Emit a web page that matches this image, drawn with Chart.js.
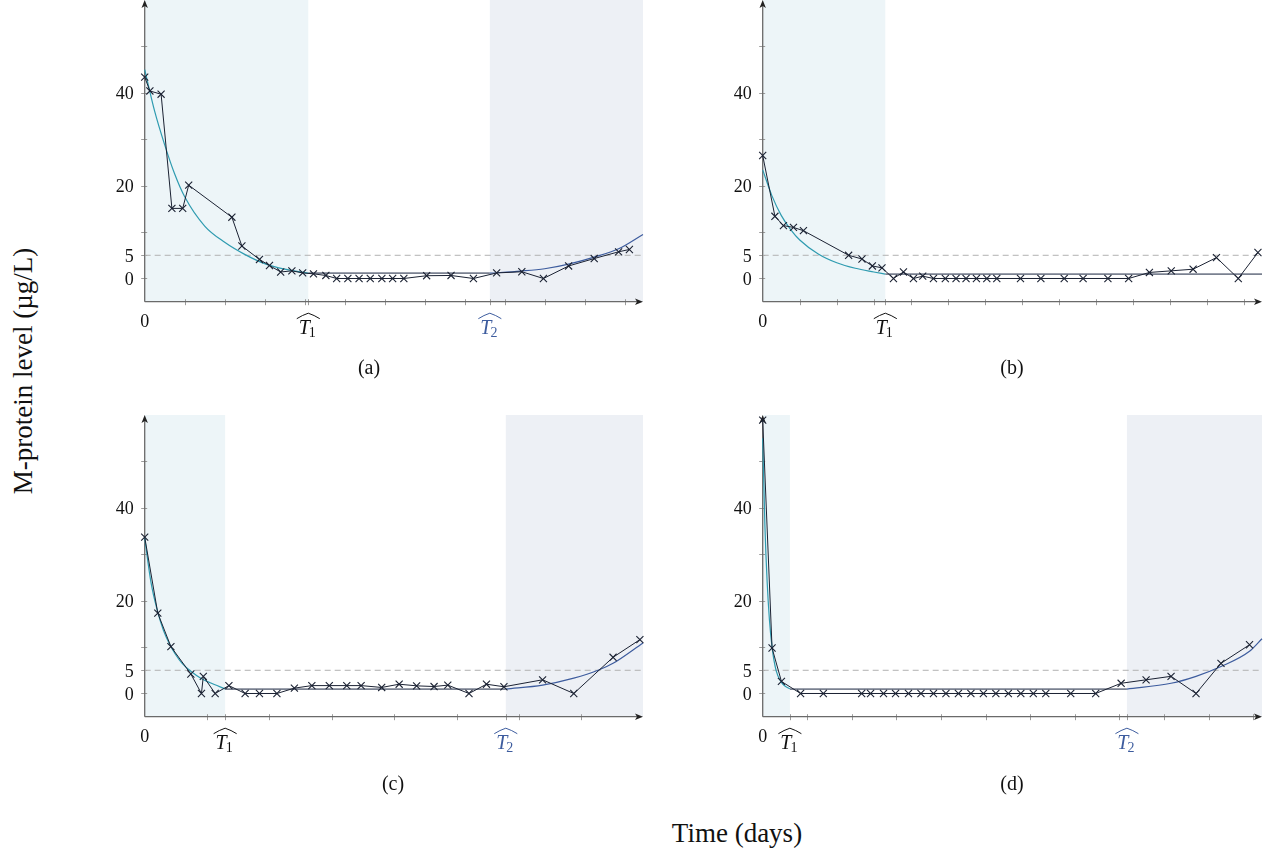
<!DOCTYPE html>
<html>
<head>
<meta charset="utf-8">
<script src="https://cdn.jsdelivr.net/npm/chart.js@4/dist/chart.umd.min.js"></script>
<style>
  body { margin: 0; background: #fff; width: 1263px; height: 862px; position: relative; overflow: hidden;
         font-family: "Liberation Serif", "Times New Roman", serif; color: #111; }
  canvas { position: absolute; }
  .lbl { position: absolute; white-space: nowrap; transform: translate(-50%, -50%); }
</style>
</head>
<body>
<canvas id="cA" width="580" height="395" style="left:90px;top:0px"></canvas>
<canvas id="cB" width="563" height="395" style="left:700px;top:0px"></canvas>
<canvas id="cC" width="580" height="400" style="left:90px;top:400px"></canvas>
<canvas id="cD" width="563" height="400" style="left:700px;top:400px"></canvas>

<div class="lbl" style="left:369px;top:367px;font-size:20px">(a)</div>
<div class="lbl" style="left:1012px;top:367px;font-size:20px">(b)</div>
<div class="lbl" style="left:393px;top:783px;font-size:20px">(c)</div>
<div class="lbl" style="left:1012px;top:783px;font-size:20px">(d)</div>
<div class="lbl" style="left:737px;top:833px;font-size:27px">Time (days)</div>
<div class="lbl" style="left:23px;top:371px;font-size:27px;transform:translate(-50%,-50%) rotate(-90deg)">M-protein level (µg/L)</div>

<script>
//-> values (days, µg/L)
const yLabelTicks = [0, 5, 20, 40];
const yMinorTicks = [10, 30, 50];
const xTickStep = 100;
const threshold = 5;

// (a)
const aDays = [0, 13, 41, 68, 95, 110, 218, 243, 287, 312, 340, 368, 395, 422, 453, 480, 508, 536, 564, 593, 620, 648, 705, 766, 822, 880, 943, 997, 1060, 1124, 1185, 1212];
const aVals = [43.4, 40.4, 39.7, 15.1, 15.1, 20.1, 13.2, 7.0, 4.1, 2.8, 1.4, 1.65, 1.2, 1.0, 0.65, 0, 0, 0, 0, 0, 0, 0, 0.6, 0.65, 0, 1.2, 1.45, 0, 2.7, 4.3, 5.75, 6.25];
const aFitDays = [0, 25, 50, 75, 100, 150, 200, 250, 300, 350, 409];
const aFitVals = [45, 36, 28.8, 22.5, 17.6, 11.3, 7.8, 5.2, 3.2, 2.0, 1.15];
const aGrowDays = [863, 940, 1000, 1060, 1124, 1185, 1246];
const aGrowVals = [1.15, 1.6, 2.1, 3.1, 4.6, 6.4, 9.5];
const aT1 = 409, aT2 = 863, aXmax = 1246, aLevel = 1.15;

// (b)
const bDays = [0, 33, 56, 83, 110, 232, 268, 296, 322, 353, 380, 407, 432, 461, 493, 522, 549, 577, 605, 632, 696, 751, 814, 865, 932, 988, 1044, 1103, 1162, 1225, 1284, 1337];
const bVals = [26.5, 13.4, 11.4, 11.0, 10.3, 5.0, 4.2, 2.7, 2.3, 0, 1.4, 0, 0.5, 0, 0, 0, 0, 0, 0, 0, 0, 0, 0, 0, 0, 0, 1.3, 1.65, 2.0, 4.5, 0, 5.6];
const bFitDays = [0, 25, 50, 75, 100, 150, 200, 250, 300, 331];
const bFitVals = [23.4, 17.8, 13.6, 10.6, 8.3, 5.3, 3.4, 2.2, 1.4, 0.95];
const bT1 = 331, bXmax = 1348, bLevel = 0.95;

// (c)
const cDays = [0, 21, 42, 74, 91, 94, 113, 135, 161, 184, 212, 240, 268, 296, 324, 347, 380, 408, 436, 464, 486, 520, 548, 576, 638, 688, 751, 794];
const cVals = [33.7, 17.3, 10.1, 4.2, 0, 3.7, 0, 1.7, 0, 0, 0, 1.15, 1.7, 1.7, 1.7, 1.7, 1.3, 2.0, 1.65, 1.5, 1.8, 0, 2.0, 1.45, 2.95, 0, 7.8, 11.6];
const cFitDays = [0, 10, 20, 30, 40, 50, 60, 75, 90, 105, 129];
const cFitVals = [33.5, 24.0, 18.0, 13.6, 10.6, 8.3, 6.5, 4.7, 3.3, 2.3, 1.0];
const cGrowDays = [579, 638, 688, 727, 751, 799];
const cGrowVals = [0.95, 1.8, 3.3, 5.0, 6.5, 10.9];
const cT1 = 129, cT2 = 579, cXmax = 799, cLevel = 0.95;

// (d)
const dDays = [0, 21, 42, 85, 136, 222, 242, 271, 298, 327, 355, 383, 411, 439, 467, 495, 523, 551, 579, 607, 635, 691, 747, 804, 860, 916, 972, 1028, 1092];
const dVals = [58.9, 9.8, 2.6, 0, 0, 0, 0, 0, 0, 0, 0, 0, 0, 0, 0, 0, 0, 0, 0, 0, 0, 0, 0, 2.2, 2.95, 3.7, 0, 6.5, 10.5];
const dFitDays = [0, 5, 10, 15, 21, 30, 42, 50, 61];
const dFitVals = [55, 36, 24, 16, 10, 5, 2.4, 1.6, 1.0];
const dGrowDays = [817, 916, 972, 1028, 1092, 1120];
const dGrowVals = [0.95, 2.2, 3.7, 5.8, 9.1, 11.8];
const dT1 = 61, dT2 = 817, dXmax = 1120, dLevel = 0.95;

const SERIF = '"Liberation Serif", "Times New Roman", serif';
const COL_DATA = '#1b2233';
const COL_FIT1 = '#2e9bb0';
const COL_FIT2 = '#3d5c9e';
const COL_LEVEL = '#7a8190';
const COL_SHADE1 = '#edf5f8';
const COL_SHADE2 = '#edf0f5';
const COL_AXIS = '#6a6a6a';

function pts(xs, ys) {
   return xs.map((x, i) => ({ x: x, y: ys[i] }));
}

function drawHatLabel(ctx, cx, axisY, sub, color) {
   ctx.save();
   ctx.fillStyle = color;
   ctx.strokeStyle = color;
   ctx.font = 'italic 20px ' + SERIF;
   const wT = ctx.measureText('T').width;
   ctx.font = '14px ' + SERIF;
   const wS = ctx.measureText(sub).width;
   const x0 = cx - (wT + wS - 1) / 2 - 1;
   ctx.textAlign = 'left';
   ctx.textBaseline = 'alphabetic';
   ctx.font = 'italic 20px ' + SERIF;
   ctx.fillText('T', x0, axisY + 32);
   ctx.font = '14px ' + SERIF;
   ctx.fillText(sub, x0 + wT - 1, axisY + 35);
   //-> widehat
   ctx.lineWidth = 1;
   ctx.beginPath();
   ctx.moveTo(cx - 11.5, axisY + 17);
   ctx.quadraticCurveTo(cx - 6, axisY + 13.5, cx, axisY + 11.5);
   ctx.quadraticCurveTo(cx + 6, axisY + 13.5, cx + 11.5, axisY + 17);
   ctx.stroke();
   ctx.restore();
}

const decor = {
   id: 'decor',
   beforeDatasetsDraw(chart, args, opt) {
      const ctx = chart.ctx;
      const xs = chart.scales.x, ys = chart.scales.y;
      const top = chart.chartArea.top;
      const x0 = xs.getPixelForValue(0);
      const xEnd = xs.getPixelForValue(opt.xmax);
      const yB = ys.getPixelForValue(-5);
      ctx.save();
      //-> shaded phases
      ctx.fillStyle = COL_SHADE1;
      ctx.fillRect(x0, top, xs.getPixelForValue(opt.t1) - x0, yB - top);
      if (opt.t2 != null) {
         const p2 = xs.getPixelForValue(opt.t2);
         ctx.fillStyle = COL_SHADE2;
         ctx.fillRect(p2, top, xEnd - p2, yB - top);
      }
      //-> tick marks
      ctx.strokeStyle = '#9c9c9c';
      ctx.lineWidth = 1;
      const xt = [];
      for (let v = xTickStep; v < opt.xmax - 5; v += xTickStep) xt.push(v);
      xt.push(opt.t1);
      if (opt.t2 != null) xt.push(opt.t2);
      ctx.beginPath();
      xt.forEach(v => {
         const p = Math.round(xs.getPixelForValue(v)) + 0.5;
         ctx.moveTo(p, yB - 2.5); ctx.lineTo(p, yB + 3.5);
      });
      yLabelTicks.concat(yMinorTicks).forEach(v => {
         const p = Math.round(ys.getPixelForValue(v)) + 0.5;
         ctx.moveTo(x0 - 3.5, p); ctx.lineTo(x0 + 2.5, p);
      });
      ctx.stroke();
      //-> axes
      ctx.strokeStyle = COL_AXIS;
      ctx.lineWidth = 1.3;
      ctx.beginPath();
      ctx.moveTo(x0, yB); ctx.lineTo(xEnd - 3, yB);
      ctx.moveTo(x0, yB); ctx.lineTo(x0, top + 3);
      ctx.stroke();
      ctx.fillStyle = '#222';
      ctx.beginPath();
      ctx.moveTo(xEnd, yB); ctx.lineTo(xEnd - 8, yB - 3.2); ctx.lineTo(xEnd - 6, yB); ctx.lineTo(xEnd - 8, yB + 3.2);
      ctx.closePath(); ctx.fill();
      ctx.beginPath();
      ctx.moveTo(x0, top); ctx.lineTo(x0 - 3.2, top + 8); ctx.lineTo(x0, top + 6); ctx.lineTo(x0 + 3.2, top + 8);
      ctx.closePath(); ctx.fill();
      //-> tick labels
      ctx.fillStyle = '#111';
      ctx.font = '18px ' + SERIF;
      ctx.textAlign = 'right';
      ctx.textBaseline = 'middle';
      yLabelTicks.forEach(v => ctx.fillText(String(v), x0 - 11, ys.getPixelForValue(v) + 1.5));
      ctx.textAlign = 'center';
      ctx.textBaseline = 'top';
      ctx.fillText('0', x0, yB + 12);
      ctx.restore();
      drawHatLabel(ctx, xs.getPixelForValue(opt.t1), yB, '1', '#111');
      if (opt.t2 != null) drawHatLabel(ctx, xs.getPixelForValue(opt.t2), yB, '2', COL_FIT2);
   }
};

const panels = [
   { id: 'cA', days: aDays, vals: aVals, fitD: aFitDays, fitV: aFitVals, growD: aGrowDays, growV: aGrowVals,
     t1: aT1, t2: aT2, xmax: aXmax, level: aLevel, pad: { left: 54.7, right: 27, top: 0, bottom: 93.3 } },
   { id: 'cB', days: bDays, vals: bVals, fitD: bFitDays, fitV: bFitVals, growD: null, growV: null,
     t1: bT1, t2: null, xmax: bXmax, level: bLevel, pad: { left: 62.7, right: 1, top: 0, bottom: 93.3 } },
   { id: 'cC', days: cDays, vals: cVals, fitD: cFitDays, fitV: cFitVals, growD: cGrowDays, growV: cGrowVals,
     t1: cT1, t2: cT2, xmax: cXmax, level: cLevel, pad: { left: 54.7, right: 27, top: 15, bottom: 83.3 } },
   { id: 'cD', days: dDays, vals: dVals, fitD: dFitDays, fitV: dFitVals, growD: dGrowDays, growV: dGrowVals,
     t1: dT1, t2: dT2, xmax: dXmax, level: dLevel, pad: { left: 62.7, right: 1, top: 15, bottom: 83.3 } }
];

panels.forEach(p => {
   const levelEnd = p.t2 != null ? p.t2 : p.xmax;
   const datasets = [
      { data: pts(p.days, p.vals), borderColor: COL_DATA, borderWidth: 1, tension: 0,
        pointStyle: 'crossRot', pointRadius: 5, pointBorderColor: COL_DATA, pointBorderWidth: 1.1,
        clip: false, order: 0 },
      { data: pts(p.fitD, p.fitV), borderColor: COL_FIT1, borderWidth: 1.2, pointRadius: 0,
        cubicInterpolationMode: 'monotone', clip: false, order: 2 },
      { data: pts([p.t1, levelEnd], [p.level, p.level]), borderColor: COL_LEVEL, borderWidth: 1.6,
        pointRadius: 0, order: 3 },
      { data: pts([0, p.xmax], [threshold, threshold]), borderColor: '#b2b2b2', borderWidth: 1,
        borderDash: [6, 4], pointRadius: 0, order: 5 }
   ];
   if (p.growD) {
      datasets.push({ data: pts(p.growD, p.growV), borderColor: COL_FIT2, borderWidth: 1.2, pointRadius: 0,
        cubicInterpolationMode: 'monotone', clip: false, order: 1 });
   }
   new Chart(document.getElementById(p.id).getContext('2d'), {
      type: 'line',
      data: { datasets: datasets },
      options: {
         responsive: false,
         animation: false,
         events: [],
         layout: { padding: p.pad, autoPadding: false },
         scales: {
            x: { type: 'linear', min: 0, max: p.xmax, display: false },
            y: { min: -5, max: 60, display: false }
         },
         plugins: {
            legend: { display: false },
            tooltip: { enabled: false },
            decor: { t1: p.t1, t2: p.t2, xmax: p.xmax }
         }
      },
      plugins: [decor]
   });
});
</script>
</body>
</html>
